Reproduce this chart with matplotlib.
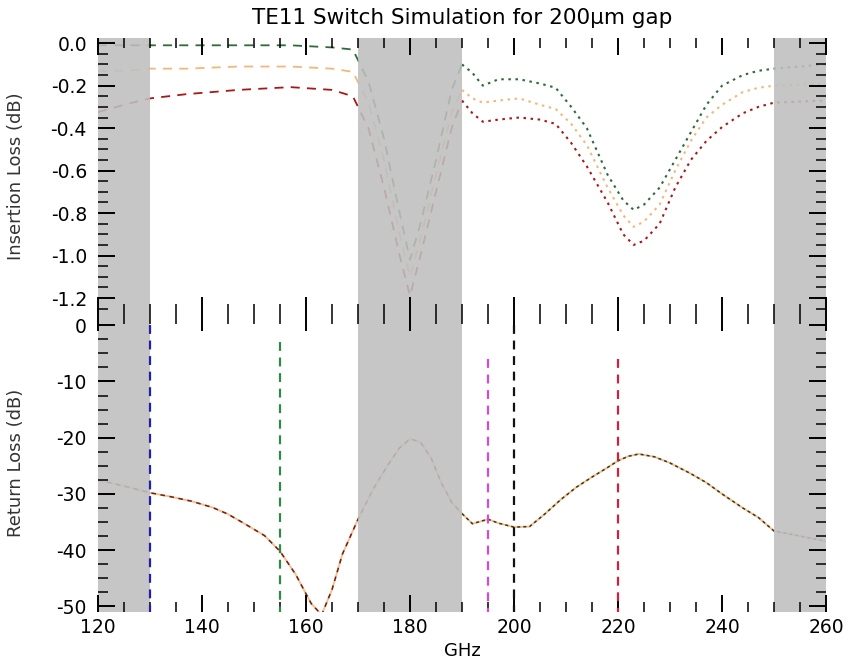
import matplotlib.pyplot as plt
import numpy as np
from matplotlib.ticker import MultipleLocator

plt.rcParams['axes.unicode_minus'] = False

# Frequency grid (GHz) and traces
freq_il = [120, 125, 130, 137, 147, 157, 165, 169, 172, 175, 178, 180, 182, 185, 188, 190,
           192, 194, 197, 201, 205, 208, 211, 214, 218, 221, 223, 225, 228, 231, 234, 237,
           240, 244, 247, 250, 255, 260]
il_green = [-0.01, -0.01, -0.01, -0.01, -0.01, -0.01, -0.02, -0.03, -0.18, -0.45, -0.80, -1.02, -0.85, -0.55, -0.22, -0.10,
            -0.14, -0.20, -0.17, -0.17, -0.19, -0.21, -0.30, -0.40, -0.62, -0.74, -0.785, -0.76, -0.68, -0.55, -0.42, -0.29,
            -0.20, -0.15, -0.13, -0.12, -0.11, -0.10]
il_orange = [-0.13, -0.13, -0.12, -0.12, -0.11, -0.11, -0.12, -0.135, -0.28, -0.55, -0.90, -1.10, -0.92, -0.62, -0.33, -0.22,
             -0.26, -0.28, -0.27, -0.26, -0.29, -0.31, -0.38, -0.48, -0.68, -0.81, -0.865, -0.84, -0.76, -0.60, -0.46, -0.35,
             -0.29, -0.23, -0.21, -0.20, -0.195, -0.19]
il_red = [-0.325, -0.29, -0.26, -0.24, -0.22, -0.207, -0.22, -0.25, -0.40, -0.68, -1.00, -1.19, -1.00, -0.70, -0.40, -0.27,
          -0.33, -0.37, -0.36, -0.35, -0.36, -0.38, -0.47, -0.58, -0.75, -0.90, -0.95, -0.93, -0.85, -0.68, -0.55, -0.46,
          -0.395, -0.33, -0.30, -0.28, -0.275, -0.27]

freq_rl = [120, 125, 130, 134, 138, 142, 145, 148, 152, 155, 158, 161, 163, 165, 167, 170,
           173, 176, 178, 180, 182, 184, 186, 188, 190, 192, 195, 197, 200, 203, 206, 209,
           212, 215, 218, 220, 222, 224, 227, 230, 234, 237, 240, 244, 247, 250, 255, 260]
rl = [-27.5, -28.6, -29.8, -30.5, -31.3, -32.4, -33.6, -35.2, -37.4, -40.2, -44.3, -49.5, -51.5, -47.0, -40.7, -34.5,
      -29.0, -24.5, -21.8, -20.2, -20.8, -23.5, -28.0, -31.5, -33.5, -35.3, -34.5, -35.2, -35.9, -35.8, -33.5, -31.0,
      -28.8, -27.0, -25.3, -24.1, -23.3, -22.9, -23.4, -24.5, -26.4, -28.0, -30.0, -32.5, -34.2, -36.6, -37.5, -38.4]

shaded_bands = [(120, 130), (170, 190), (250, 260)]
marker_freqs = [130, 155, 195, 200, 220]
marker_tops = [0, -3, -6, 0, -6]
marker_colors = ['#1f1fb4', '#2f8a4a', '#d24bd2', '#111111', '#d0203c']

x_ticks = [120, 140, 160, 180, 200, 220, 240, 260]

fig = plt.figure(figsize=(8.48, 6.68), dpi=100)
ax_il = fig.add_axes([0.1156, 0.530, 0.8585, 0.413])
ax_rl = fig.add_axes([0.1156, 0.0838, 0.8585, 0.4462], sharex=ax_il)

f_il = np.array(freq_il)
f_rl = np.array(freq_rl)
left_il, right_il = f_il <= 190, f_il >= 190
left_rl, right_rl = f_rl <= 190, f_rl >= 190

# insertion loss: dashed below 190 GHz, dotted above
for vals, col in [(il_orange, '#f2b878'), (il_green, '#2e6b3a'), (il_red, '#a81818')]:
    v = np.array(vals)
    ax_il.plot(f_il[left_il], v[left_il], color=col, lw=1.3, dashes=(5, 4), zorder=1)
    ax_il.plot(f_il[right_il], v[right_il], color=col, lw=1.5, dashes=(1.2, 2.2), zorder=1)

# return loss
v = np.array(rl)
ax_rl.plot(f_rl, v, color='#f5b070', lw=1.4, alpha=0.8, zorder=1)
ax_rl.plot(f_rl[left_rl], v[left_rl], color='#6a2020', lw=1.1, dashes=(3, 3), zorder=1)
ax_rl.plot(f_rl[right_rl], v[right_rl], color='#3a3a20', lw=1.1, dashes=(2, 2), zorder=1)

ax_rl.set_ylim(-51, 2)
for fq, top, col in zip(marker_freqs, marker_tops, marker_colors):
    ax_rl.plot([fq, fq], [top, -51], color=col, lw=1.6, dashes=(4, 3), zorder=2)

for ax in (ax_il, ax_rl):
    for lo, hi in shaded_bands:
        ax.axvspan(lo, hi, facecolor='#bfbfbf', alpha=0.88, lw=0, zorder=1.5)
    for s in ax.spines.values():
        s.set_visible(False)
    ax.tick_params(which='both', direction='in', top=True, bottom=True, left=True, right=True,
                   labelsize=13.5, colors='black', pad=8)
    ax.tick_params(which='major', length=12, width=1.4)
    ax.tick_params(which='minor', length=7, width=1.1)
    ax.xaxis.set_minor_locator(MultipleLocator(5))

ax_il.set_xlim(120, 260)
ax_il.set_ylim(-1.275, 0.024)
ax_il.yaxis.set_minor_locator(MultipleLocator(0.05))
ax_il.set_yticks([0.0, -0.2, -0.4, -0.6, -0.8, -1.0, -1.2])
ax_il.set_yticklabels(['0.0', '-0.2', '-0.4', '-0.6', '-0.8', '-1.0', '-1.2'])
ax_il.tick_params(axis='x', labelbottom=False)
ax_il.set_ylabel('Insertion Loss (dB)', fontsize=13, color='#333333')
ax_il.set_title('TE11 Switch Simulation for 200µm gap', fontsize=15.5, pad=10)

ax_rl.set_yticks([0, -10, -20, -30, -40, -50])
ax_rl.yaxis.set_minor_locator(MultipleLocator(2.5))
ax_rl.set_xticks(x_ticks)
ax_rl.set_xticklabels([str(t) for t in x_ticks])
ax_rl.tick_params(axis='x', pad=4)
ax_rl.set_xlabel('GHz', fontsize=13, labelpad=4)
ax_rl.set_ylabel('Return Loss (dB)', fontsize=13, color='#333333')

ax_il.yaxis.set_label_coords(-0.1, 0.5)
ax_rl.yaxis.set_label_coords(-0.1, 0.5)

plt.savefig('out.png', dpi=100)
